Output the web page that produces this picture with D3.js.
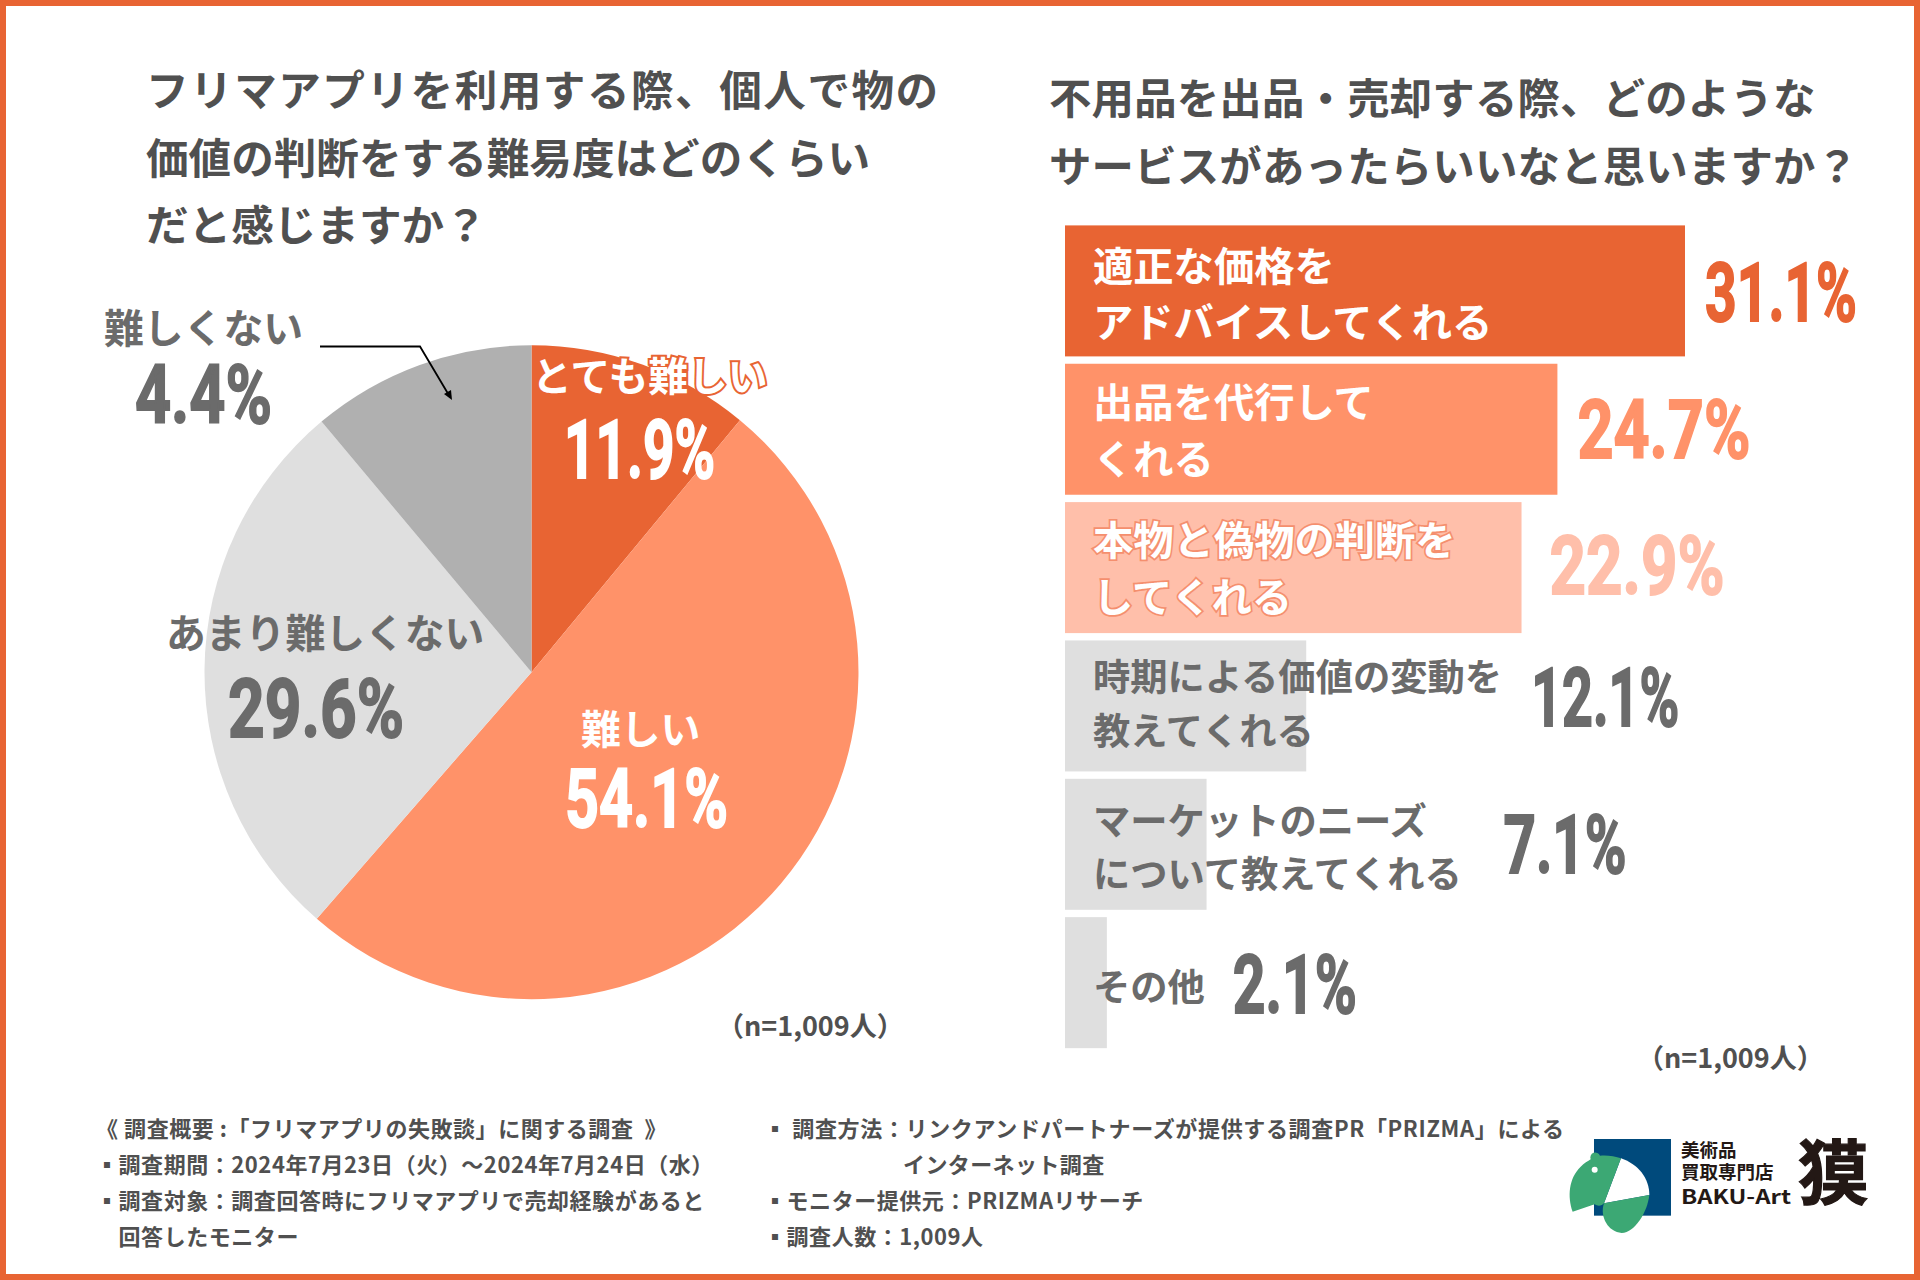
<!DOCTYPE html>
<html lang="ja">
<head>
<meta charset="utf-8">
<script src="https://cdn.jsdelivr.net/npm/d3@7"></script>
<style>
	html, body { margin: 0; padding: 0; background: #fff; }
	svg { display: block; }
	text { font-family: "Noto Sans CJK JP", sans-serif; font-weight: 700; }
	.num { font-family: Roboto, sans-serif; font-weight: 700; }
</style>
</head>
<body>
<div id="chart"></div>
<script>
// data -----------------------------------------

const pieCategories = ["とても難しい", "難しい", "あまり難しくない", "難しくない"];
const piePrinted = [11.9, 54.1, 29.6, 4.4];
// the slices in the picture are not drawn to the printed numbers, so these are read off the angles
const pieDrawnShare = [11.0, 50.4, 27.5, 11.1];

const barCategories = [
	["適正な価格を", "アドバイスしてくれる"],
	["出品を代行して", "くれる"],
	["本物と偽物の判断を", "してくれる"],
	["時期による価値の変動を", "教えてくれる"],
	["マーケットのニーズ", "について教えてくれる"],
	["その他"]
];
const barValues = [31.1, 24.7, 22.9, 12.1, 7.1, 2.1];

const leftTitle = ["フリマアプリを利用する際、個人で物の", "価値の判断をする難易度はどのくらい", "だと感じますか？"];
const rightTitle = ["不用品を出品・売却する際、どのような", "サービスがあったらいいなと思いますか？"];
const sampleNote = "（n=1,009人）";
const footLeft = [
	"《 調査概要 :「フリマアプリの失敗談」に関する調査\u00a0 》",
	"▪調査期間：2024年7月23日（火）〜2024年7月24日（水）",
	"▪調査対象：調査回答時にフリマアプリで売却経験があると",
	"　回答したモニター"
];
const footRight = [
	"▪ 調査方法：リンクアンドパートナーズが提供する調査PR「PRIZMA」による",
	"インターネット調査",
	"▪モニター提供元：PRIZMAリサーチ",
	"▪調査人数：1,009人"
];


// layout ---------------------------------------

const width = 1920, height = 1280;
const orange = "#e86433", salmon = "#ff9269", peach = "#ffbfaa";
const lightGrey = "#dfdfdf", midGrey = "#b0b0b0", textGrey = "#6b6b6b", darkText = "#505050";

const pieColors = [orange, salmon, lightGrey, midGrey];
const pieCenter = [531.5, 672.2], pieRadius = 327;
const pieLabelSpots = [
	{x: 532, y: 391, fill: "#fff", stroke: orange, numX: 564, numY: 478, numW: 151, numFill: "#fff"},
	{x: 581, y: 744, fill: "#fff", numX: 565, numY: 827, numW: 163, numFill: "#fff"},
	{x: 166, y: 648, fill: textGrey, numX: 228, numY: 737, numW: 176, numFill: textGrey},
	{x: 104, y: 343, fill: textGrey, numX: 135, numY: 423, numW: 137, numFill: textGrey}
];

const barColors = [orange, salmon, peach, lightGrey, lightGrey, lightGrey];
const barTextFill = ["#fff", "#fff", "#fff", textGrey, textGrey, textGrey];
const barTextStroke = [null, null, "#f58f6e", null, null, null];
const barTextSize = [40.3, 40.3, 40.3, 37.3, 37.3, 37.3];
const barFirstBaseline = [55.5, 53.5, 53, 51, 56, 84];
const barLineStep = [56.5, 56.5, 56.5, 54, 53, 0];
const valueFill = [orange, salmon, peach, textGrey, textGrey, textGrey];
const valueGap = [20, 20, 28, 225, 297, 126];
const valueDrop = [96, 94, 92, 86, 94, 96];
const valueWidth = [152, 173, 175, 148, 123, 124];
const barLeft = 1065, barTop = 225.4, barStep = 138.35, barHeight = 131;


// functions ------------------------------------

function renderLines(svg, lines, x, y, step, size, spacing, fill) {
	svg.append("g")
		.selectAll("text")
		.data(lines)
		.join("text")
		.attr("x", x)
		.attr("y", (d, i) => y + i * step)
		.attr("font-size", size)
		.attr("letter-spacing", Array.isArray(spacing) ? (d, i) => spacing[i] : spacing)
		.attr("fill", fill)
		.text(d => d);
}

// Roboto is squeezed to the width of the condensed numerals in the picture
function renderNumber(svg, label, x, y, size, fill, targetWidth) {
	const num = svg.append("text")
		.attr("class", "num")
		.attr("font-size", size)
		.attr("fill", fill)
		.attr("stroke", fill)
		.attr("stroke-width", 1.6)
		.attr("vector-effect", "non-scaling-stroke")
		.text(label);
	const squash = targetWidth / num.node().getComputedTextLength();
	num.attr("transform", `translate(${x},${y}) scale(${squash},1)`);
}

function renderPie(svg) {
	const pie = d3.pie().sort(null).value(d => d)(pieDrawnShare);
	const arc = d3.arc().innerRadius(0).outerRadius(pieRadius);
	svg.append("g")
		.attr("transform", `translate(${pieCenter})`)
		.selectAll("path")
		.data(pie)
		.join("path")
		.attr("d", arc)
		.attr("fill", (d, i) => pieColors[i]);

	// pointer for the smallest group
	svg.append("path")
		.attr("d", "M320,346.5 H420 L450,397")
		.attr("fill", "none")
		.attr("stroke", "#000")
		.attr("stroke-width", 1.8);
	svg.append("path")
		.attr("d", "M452,400 L444,394 L451,390 Z")
		.attr("fill", "#000");

	pieCategories.forEach((name, i) => {
		const spot = pieLabelSpots[i];
		const label = svg.append("text")
			.attr("x", spot.x)
			.attr("y", spot.y)
			.attr("font-size", 39.8)
			.attr("fill", spot.fill)
			.text(name);
		if (spot.stroke) {
			label.attr("stroke", spot.stroke)
				.attr("stroke-width", 4)
				.attr("paint-order", "stroke");
		}
		renderNumber(svg, `${piePrinted[i]}%`, spot.numX, spot.numY, 82, spot.numFill, spot.numW);
	});
}

function renderBars(svg) {
	const x = d3.scaleLinear().domain([0, 31.1]).range([0, 620]);
	const bar = svg.append("g")
		.selectAll("g")
		.data(barValues)
		.join("g")
		.attr("transform", (d, i) => `translate(${barLeft},${barTop + i * barStep})`);
	bar.append("rect")
		.attr("width", d => x(d))
		.attr("height", barHeight)
		.attr("fill", (d, i) => barColors[i]);

	barCategories.forEach((lines, i) => {
		const top = barTop + i * barStep;
		lines.forEach((line, j) => {
			const label = svg.append("text")
				.attr("x", barLeft + 28)
				.attr("y", top + barFirstBaseline[i] + j * barLineStep[i])
				.attr("font-size", barTextSize[i])
				.attr("fill", barTextFill[i])
				.text(line);
			if (barTextStroke[i]) {
				label.attr("stroke", barTextStroke[i])
					.attr("stroke-width", 3.5)
					.attr("paint-order", "stroke");
			}
		});
		renderNumber(svg, `${barValues[i]}%`, barLeft + x(barValues[i]) + valueGap[i], top + valueDrop[i], 82, valueFill[i], valueWidth[i]);
	});
}

function renderLogo(svg) {
	const logo = svg.append("g").attr("transform", "translate(1560,1125) scale(0.3333)");
	logo.append("rect")
		.attr("x", 102).attr("y", 42)
		.attr("width", 231).attr("height", 230)
		.attr("fill", "#004a7c");
	logo.append("path")
		.attr("d", "M183,100 C235,118 268,160 268,210 L132,235 Z")
		.attr("fill", "#fff");
	logo.append("path")
		.attr("d", "M38,260 C22,215 26,160 62,125 C72,115 84,108 92,103 A14,14 0 1 1 120,92 C140,90 165,93 183,100 L132,235 C125,244 112,244 104,238 Z")
		.attr("fill", "#3ca874");
	logo.append("path")
		.attr("d", "M268,210 C262,262 225,322 185,324 C145,322 118,275 132,235 Z")
		.attr("fill", "#3ca874");
	logo.append("circle")
		.attr("cx", 104).attr("cy", 134).attr("r", 9)
		.attr("fill", "#fff");

	const ink = "#231815";
	svg.append("text").attr("x", 1681).attr("y", 1157).attr("font-size", 18.5).attr("fill", ink).text("美術品");
	svg.append("text").attr("x", 1681).attr("y", 1179).attr("font-size", 18.5).attr("fill", ink).text("買取専門店");
	svg.append("text").attr("x", 1681).attr("y", 1204)
		.attr("font-size", 19.5)
		.attr("textLength", 110)
		.attr("lengthAdjust", "spacingAndGlyphs")
		.attr("fill", ink)
		.text("BAKU-Art");
	svg.append("text").attr("x", 1798).attr("y", 1199)
		.attr("font-size", 70)
		.attr("font-weight", 900)
		.attr("fill", ink)
		.attr("stroke", ink)
		.attr("stroke-width", 1.2)
		.text("獏");
}


// main -----------------------------------------

const svg = d3.select("#chart")
	.append("svg")
	.attr("width", width)
	.attr("height", height)
	.attr("viewBox", `0 0 ${width} ${height}`);

svg.append("rect")
	.attr("x", 3).attr("y", 3)
	.attr("width", width - 6).attr("height", height - 6)
	.attr("fill", "#fff")
	.attr("stroke", orange)
	.attr("stroke-width", 6);

renderLines(svg, leftTitle, 146, 106, 67.5, 42.6, [1.5, 0, 0], darkText);
renderLines(svg, rightTitle, 1049, 114, 68, 42.4, 0.2, darkText);
renderPie(svg);
renderBars(svg);
renderLines(svg, [sampleNote], 717, 1036, 0, 27, 0, darkText);
renderLines(svg, [sampleNote], 1637, 1068, 0, 27, 0, darkText);
renderLines(svg, footLeft, 96, 1137, 36, 22, 0.55, darkText);
renderLines(svg, footRight.slice(0, 1), 764, 1137, 36, 22, 0.65, darkText);
renderLines(svg, footRight.slice(1, 2), 903, 1173, 36, 22, 0.4, darkText);
renderLines(svg, footRight.slice(2), 764, 1209, 36, 22, 0.55, darkText);
renderLogo(svg);
</script>
</body>
</html>
